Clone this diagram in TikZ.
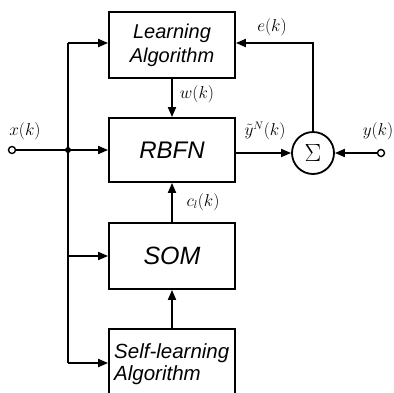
\documentclass[tikz,border=0pt]{standalone}
\usepackage{fontspec}
\setsansfont{Liberation Sans}
\usetikzlibrary{arrows.meta}
\begin{document}
\begin{tikzpicture}[x=1pt,y=-1pt,
  blk/.style={draw,line width=1.8pt,minimum width=126pt,font=\sffamily\itshape\fontsize{20}{24}\selectfont,align=center,inner sep=0pt},
  ln/.style={line width=1.8pt},
  arr/.style={ln,-{Triangle[length=10pt,width=8pt]}},
  lbl/.style={font=\fontsize{16}{17}\selectfont,inner sep=0pt}]
\useasboundingbox (0,0) rectangle (394,392);
\clip (0,0) rectangle (394,392);
\node[blk,minimum height=66pt] (la) at (172,45) {Learning\\Algorithm};
\node[blk,minimum height=64pt,font=\sffamily\itshape\fontsize{24}{26}\selectfont] (rb) at (172,150) {RBFN};
\node[blk,minimum height=66pt,font=\sffamily\itshape\fontsize{25}{27}\selectfont] (som) at (172,256) {SOM};
\node[blk,minimum height=70pt,text depth=0pt] (sl) at (172,364) {};
\node[font=\sffamily\itshape\fontsize{20.5}{22}\selectfont,align=left,anchor=north west,inner sep=0pt] (slt) at (114,343) {Self-learning\\Algorithm};
\node[draw,circle,line width=1.8pt,minimum size=42pt,inner sep=0pt,font=\fontsize{24}{24}\selectfont] (sum) at (313,153) {$\Sigma$};
\node[draw,circle,line width=1.4pt,minimum size=7pt,inner sep=0pt,fill=white] (xin) at (12,150) {};
\node[draw,circle,line width=1.4pt,minimum size=7pt,inner sep=0pt,fill=white] (yin) at (381,153) {};
\coordinate (j) at (68,150);
\coordinate (top) at (68,43);
\coordinate (bot) at (68,363);
\fill (j) circle (3pt);
\draw[ln] (xin) -- (j);
\draw[ln] (top) -- (bot);
\draw[arr] (j) -- (rb.west);
\draw[arr] (top) -- (la.west |- top);
\draw[arr] (68,256) -- (som.west);
\draw[arr] (bot) -- (sl.west |- bot);
\draw[arr] (la.south) -- (rb.north);
\draw[arr] (som.north) -- (rb.south);
\draw[arr] (sl.north) -- (som.south);
\draw[arr] (rb.east |- sum.west) -- (sum.west);
\draw[arr] (yin) -- (sum.east);
\draw[arr] (sum.north) |- (la.east |- top);
\node[lbl] (xl) at (25,131) {$x(k)$};
\node[lbl] (yl) at (378,131) {$y(k)$};
\node[lbl] (el) at (272,27) {$e(k)$};
\node[lbl] (wl) at (197,94) {$w(k)$};
\node[lbl] (yn) at (265,131) {$\tilde{y}^{N}(k)$};
\node[lbl] (cl) at (203,202) {$c_{l}(k)$};
\end{tikzpicture}
\end{document}
